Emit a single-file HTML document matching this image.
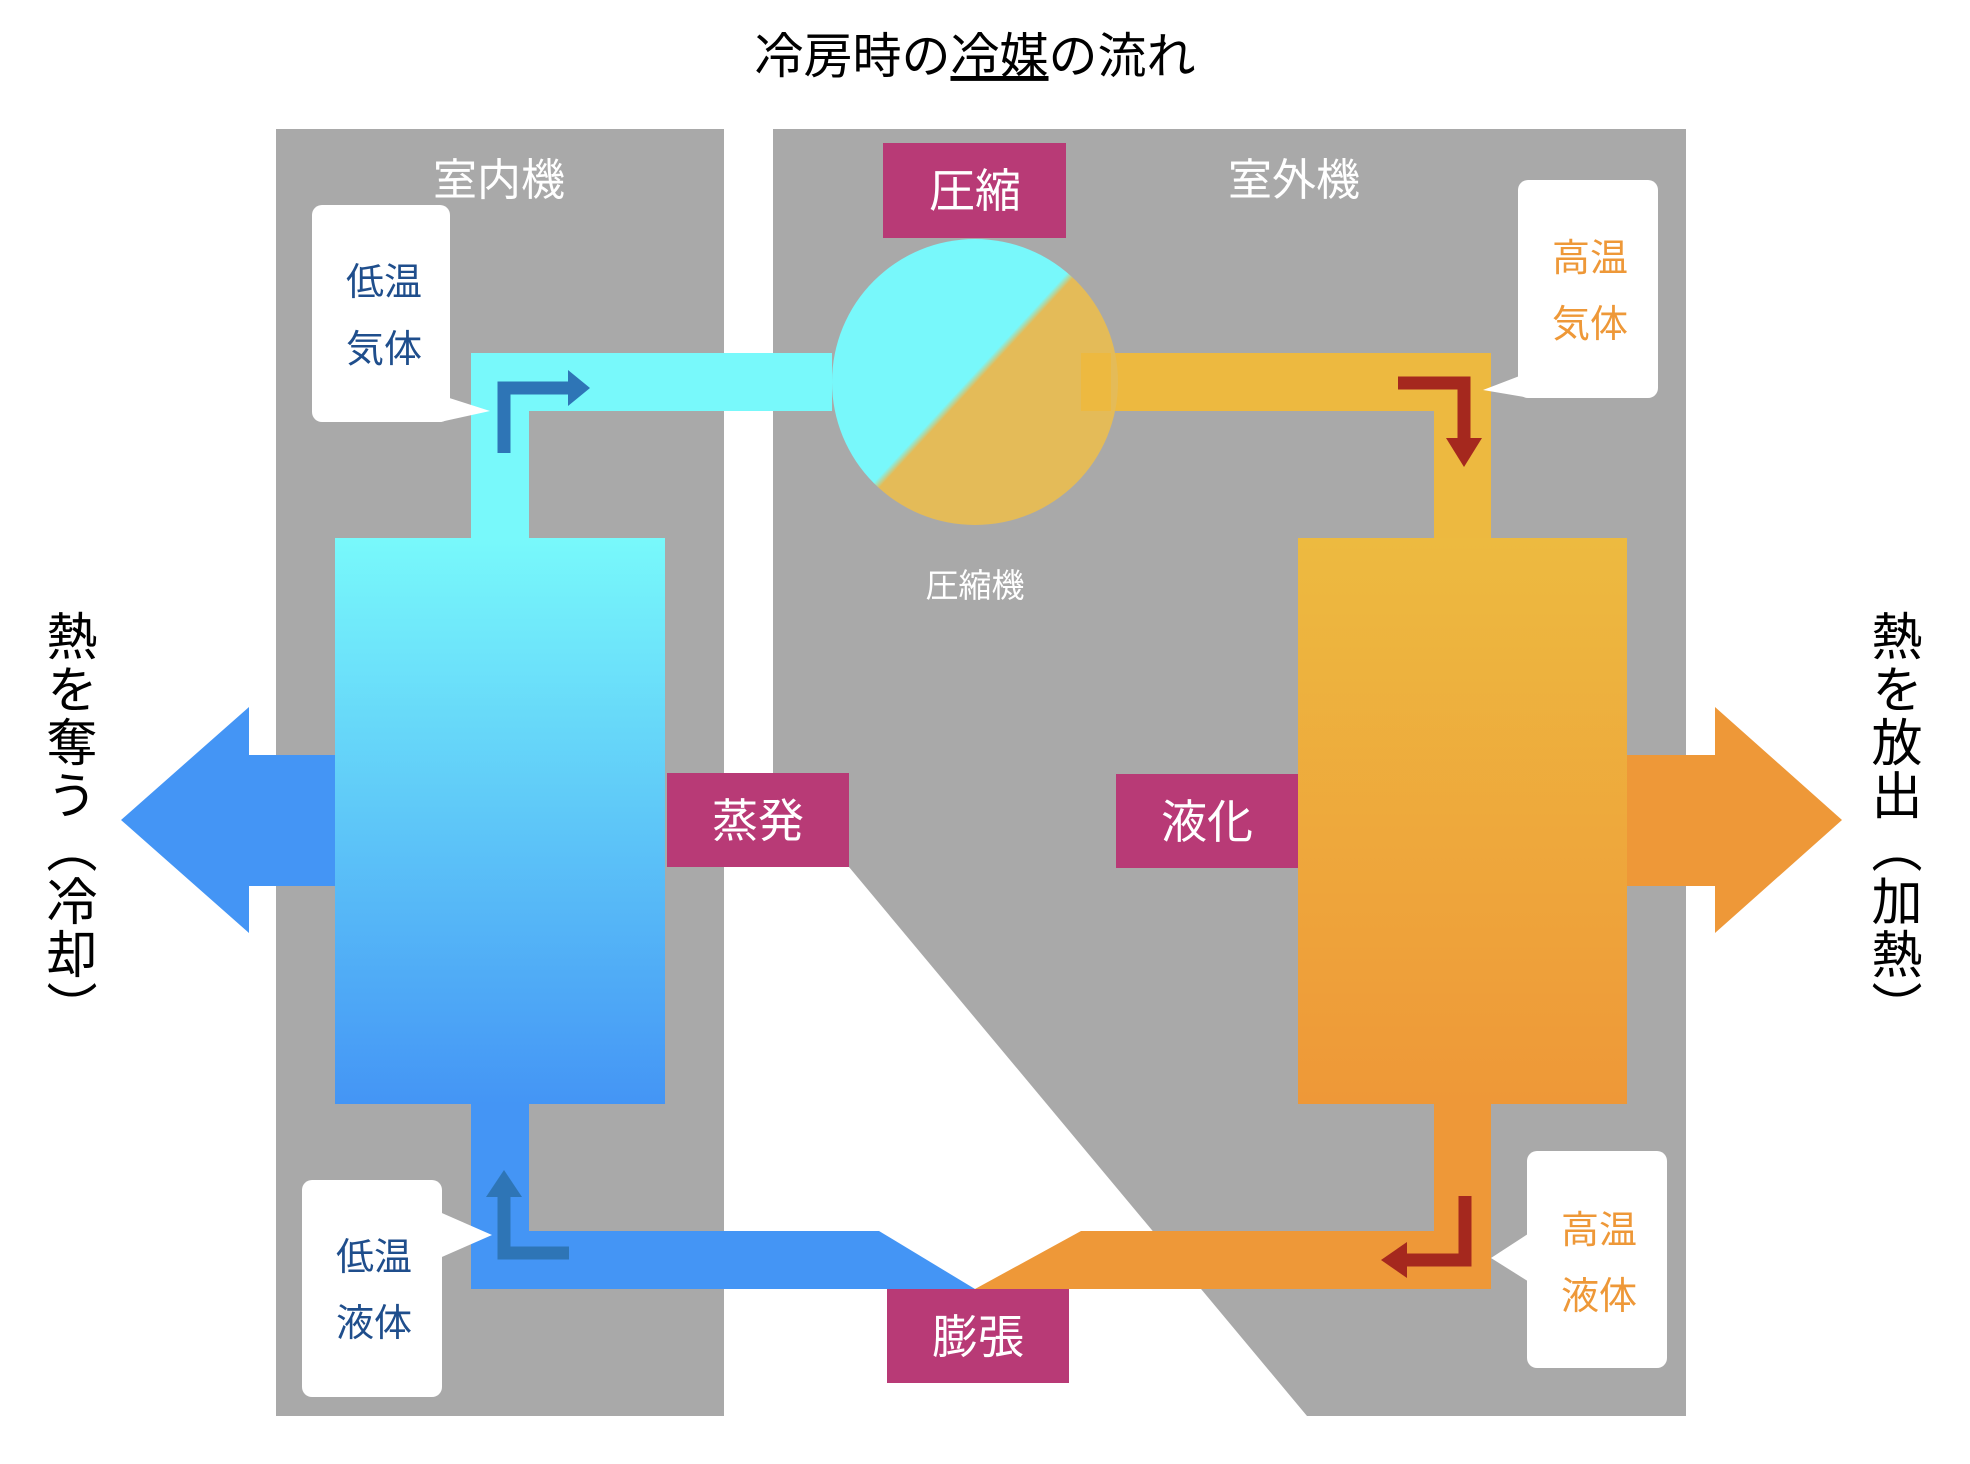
<!DOCTYPE html>
<html><head><meta charset="utf-8"><style>
html,body{margin:0;padding:0;background:#fff;}
svg text{font-family:"Liberation Sans","Noto Sans CJK JP",sans-serif;}
.v{position:absolute;writing-mode:vertical-rl;font-family:"Liberation Sans","Noto Sans CJK JP",sans-serif;font-size:51px;color:#000;letter-spacing:2px;}
</style></head><body>
<div style="position:relative;width:1970px;height:1464px;overflow:hidden">
<svg width="1970" height="1464" viewBox="0 0 1970 1464" xmlns="http://www.w3.org/2000/svg">
<defs>
<linearGradient id="gc" x1="0" y1="0" x2="0" y2="1"><stop offset="0" stop-color="#78F9FB"/><stop offset="1" stop-color="#4495F5"/></linearGradient>
<linearGradient id="go" x1="0" y1="0" x2="0" y2="1"><stop offset="0" stop-color="#EDBA40"/><stop offset="1" stop-color="#EE9838"/></linearGradient>
<linearGradient id="gcirc" x1="0.2" y1="0.2" x2="0.85" y2="0.8"><stop offset="0.455" stop-color="#78F8FB"/><stop offset="0.485" stop-color="#E4BB58"/></linearGradient>
</defs>
<text x="975" y="73" font-size="49" text-anchor="middle" fill="#000">冷房時の<tspan text-decoration="underline">冷媒</tspan>の流れ</text>
<rect x="276" y="129" width="448" height="1287" fill="#A9A9A9"/>
<polygon points="773,129 1686,129 1686,1416 1307,1416 849,867 773,867" fill="#A9A9A9"/>
<text x="499" y="195" font-size="44" fill="#fff" text-anchor="middle">室内機</text>
<text x="1294" y="195" font-size="44" fill="#fff" text-anchor="middle">室外機</text>
<rect x="471" y="353" width="361" height="58" fill="#78F9FB"/>
<rect x="471" y="353" width="58" height="185" fill="#78F9FB"/>
<rect x="1081" y="353" width="410" height="58" fill="#EDB940"/>
<rect x="1434" y="353" width="57" height="185" fill="#EDB940"/>
<rect x="471" y="1104" width="58" height="185" fill="#4495F5"/>
<polygon points="471,1231 879,1231 975,1289 471,1289" fill="#4495F5"/>
<rect x="1434" y="1104" width="57" height="185" fill="#EE9838"/>
<polygon points="975,1289 1081,1231 1491,1231 1491,1289" fill="#EE9838"/>
<circle cx="975" cy="382" r="143" fill="url(#gcirc)"/>
<rect x="1081" y="353" width="30" height="58" fill="#EDB940"/>
<rect x="335" y="538" width="330" height="566" fill="url(#gc)"/>
<rect x="1298" y="538" width="329" height="566" fill="url(#go)"/>
<polygon points="121,820 249,707 249,755 335,755 335,886 249,886 249,933" fill="#4495F5"/>
<polygon points="1842,820 1715,707 1715,755 1627,755 1627,886 1715,886 1715,933" fill="#EE9838"/>
<rect x="883" y="143" width="183" height="95" fill="#B83A76"/>
<text x="975" y="207" font-size="46" fill="#fff" text-anchor="middle">圧縮</text>
<rect x="667" y="773" width="182" height="94" fill="#B83A76"/>
<text x="758" y="837" font-size="46" fill="#fff" text-anchor="middle">蒸発</text>
<rect x="1116" y="774" width="182" height="94" fill="#B83A76"/>
<text x="1207" y="838" font-size="46" fill="#fff" text-anchor="middle">液化</text>
<rect x="887" y="1289" width="182" height="94" fill="#B83A76"/>
<text x="978" y="1353" font-size="46" fill="#fff" text-anchor="middle">膨張</text>
<text x="975" y="597" font-size="33" fill="#fff" text-anchor="middle">圧縮機</text>
<rect x="312" y="205" width="138" height="217" rx="10" fill="#fff"/>
<polygon points="440,395 490,411 440,422" fill="#fff"/>
<text x="384" y="295" font-size="38" fill="#1F4E8C" text-anchor="middle">低温</text>
<text x="384" y="362" font-size="38" fill="#1F4E8C" text-anchor="middle">気体</text>
<rect x="1518" y="180" width="140" height="218" rx="10" fill="#fff"/>
<polygon points="1530,372 1483,390 1530,398" fill="#fff"/>
<text x="1590" y="271" font-size="38" fill="#EE9838" text-anchor="middle">高温</text>
<text x="1590" y="337" font-size="38" fill="#EE9838" text-anchor="middle">気体</text>
<rect x="302" y="1180" width="140" height="217" rx="10" fill="#fff"/>
<polygon points="435,1210 492,1235 435,1260" fill="#fff"/>
<text x="374" y="1270" font-size="38" fill="#1F4E8C" text-anchor="middle">低温</text>
<text x="374" y="1336" font-size="38" fill="#1F4E8C" text-anchor="middle">液体</text>
<rect x="1527" y="1151" width="140" height="217" rx="10" fill="#fff"/>
<polygon points="1534,1230 1491,1258 1534,1285" fill="#fff"/>
<text x="1599" y="1243" font-size="38" fill="#EE9838" text-anchor="middle">高温</text>
<text x="1599" y="1309" font-size="38" fill="#EE9838" text-anchor="middle">液体</text>
<polyline points="504,453 504,388 570,388" fill="none" stroke="#2E75B6" stroke-width="13"/>
<polygon points="568,370 590,388 568,406" fill="#2E75B6"/>
<polyline points="1398,383 1464,383 1464,440" fill="none" stroke="#A5281E" stroke-width="13"/>
<polygon points="1446,438 1464,467 1482,438" fill="#A5281E"/>
<polyline points="569,1253 504,1253 504,1195" fill="none" stroke="#2E75B6" stroke-width="13"/>
<polygon points="486,1197 504,1170 522,1197" fill="#2E75B6"/>
<polyline points="1465,1196 1465,1260 1405,1260" fill="none" stroke="#A5281E" stroke-width="13"/>
<polygon points="1407,1242 1381,1260 1407,1278" fill="#A5281E"/>
</svg>
<div class="v" style="left:30px;top:610px;">熱を奪う（冷却）</div>
<div class="v" style="left:1855px;top:610px;">熱を放出（加熱）</div>
</div>
</body></html>
